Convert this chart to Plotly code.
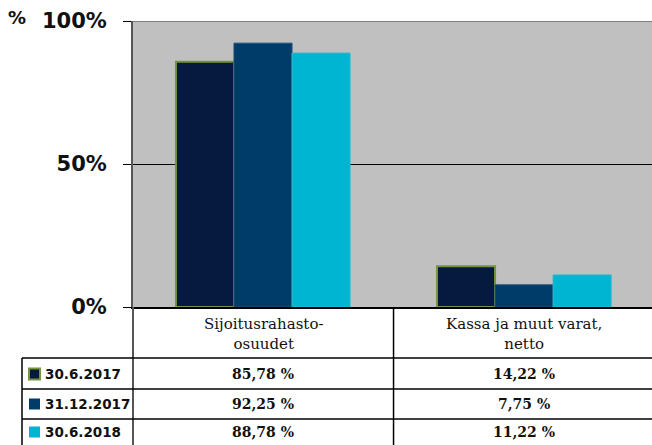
import plotly.graph_objects as go

# ---- data ----
categories = ["Sijoitusrahasto-osuudet", "Kassa ja muut varat, netto"]
category_labels = ["Sijoitusrahasto-<br>osuudet", "Kassa ja muut varat,<br>netto"]
series_names = ["30.6.2017", "31.12.2017", "30.6.2018"]
values_2017_06 = [85.78, 14.22]
values_2017_12 = [92.25, 7.75]
values_2018_06 = [88.78, 11.22]
y_tick_vals = [0, 50, 100]
y_tick_text = ["0%", "50%", "100%"]
y_unit_label = "%"

series_values = [values_2017_06, values_2017_12, values_2018_06]
colors = ["#061A40", "#003C69", "#00B5D1"]
border_colors = ["#77933C", "#1F4F7A", "#2DB8D0"]
border_widths = [2, 1, 1]

W, H = 652, 445
L, R, T, B = 133, 0, 21, 138
PW, PH = W - L - R, H - T - B

def py(px):  # pixel y -> paper y
    return (H - B - px) / PH

def pxp(px):  # pixel x -> paper x
    return (px - L) / PW

fig = go.Figure()
for name, vals, c, bc, bw in zip(series_names, series_values, colors, border_colors, border_widths):
    fig.add_trace(go.Bar(
        x=list(range(len(categories))), y=vals, name=name,
        marker=dict(color=c, line=dict(color=bc, width=bw)),
        hoverinfo="skip",
    ))

serif = "DejaVu Serif"
sans = "DejaVu Sans"

shapes = []
annotations = []
# top border of plot area
shapes.append(dict(type="line", xref="paper", yref="y", x0=0, x1=1, y0=100, y1=100,
                   line=dict(color="#7F7F7F", width=2), layer="above"))
# y axis line extension into table
shapes.append(dict(type="line", xref="paper", yref="paper", x0=0, x1=0, y0=0, y1=py(H),
                   line=dict(color="#555555", width=2)))
# category divider
shapes.append(dict(type="line", xref="x", yref="paper", x0=0.5, x1=0.5, y0=0, y1=py(H),
                   line=dict(color="#000000", width=1.5)))
# table horizontal lines
row_lines = [358, 389, 419]
for yl in row_lines:
    shapes.append(dict(type="line", xref="paper", yref="paper", x0=pxp(22), x1=1, y0=py(yl), y1=py(yl),
                       line=dict(color="#000000", width=1.5)))
# left border of table
shapes.append(dict(type="line", xref="paper", yref="paper", x0=pxp(22), x1=pxp(22), y0=py(358), y1=py(H),
                   line=dict(color="#000000", width=1.5)))

# category header labels
for i, lab in enumerate(category_labels):
    annotations.append(dict(x=i, y=py(334), xref="x", yref="paper", text=lab, showarrow=False,
                            font=dict(family=serif, size=15, color="#111111"),
                            xanchor="center", yanchor="middle"))

row_centers = [374, 404, 432]
for r, (name, vals, c, bc, bw) in enumerate(zip(series_names, series_values, colors, border_colors, border_widths)):
    yc = row_centers[r]
    shapes.append(dict(type="rect", xref="paper", yref="paper",
                       x0=pxp(29), x1=pxp(40), y0=py(yc + 5.5), y1=py(yc - 5.5),
                       fillcolor=c, line=dict(color=bc if r == 0 else c, width=2 if r == 0 else 0)))
    annotations.append(dict(x=pxp(43), y=py(yc), xref="paper", yref="paper", text="<b>%s</b>" % name,
                            showarrow=False, xanchor="left", yanchor="middle",
                            font=dict(family=sans, size=13.5, color="#111111")))
    for j, v in enumerate(vals):
        txt = ("%.2f %%" % v).replace(".", ",")
        annotations.append(dict(x=j, y=py(yc), xref="x", yref="paper", text="<b>%s</b>" % txt,
                                showarrow=False, xanchor="center", yanchor="middle",
                                font=dict(family=serif, size=14, color="#111111")))

annotations.append(dict(x=pxp(17), y=py(17), xref="paper", yref="paper", text="<b>%s</b>" % y_unit_label,
                        showarrow=False, xanchor="center", yanchor="middle",
                        font=dict(family=sans, size=18, color="#111111")))

fig.update_layout(
    width=W, height=H,
    margin=dict(l=L, r=R, t=T, b=B, pad=0),
    paper_bgcolor="white", plot_bgcolor="#C0C0C0",
    barmode="group", bargap=0.333, bargroupgap=0,
    showlegend=False,
    shapes=shapes, annotations=annotations,
    xaxis=dict(range=[-0.498, 1.49], showticklabels=False, showgrid=False, zeroline=False,
               showline=True, linecolor="#000000", linewidth=2, ticks=""),
    yaxis=dict(range=[0, 100], tickvals=y_tick_vals, ticktext=["<b>%s</b>" % t for t in y_tick_text],
               tickfont=dict(family=sans, size=21, color="#111111"),
               ticks="outside", ticklen=8, tickcolor="#000000", tickwidth=1,
               ticklabelstandoff=12,
               showgrid=True, gridcolor="#000000", gridwidth=1, zeroline=False,
               showline=True, linecolor="#555555", linewidth=2),
)

fig.write_html("out.html", config={"displayModeBar": False},
               post_script="document.body.style.margin='0';document.body.style.overflow='hidden';")
